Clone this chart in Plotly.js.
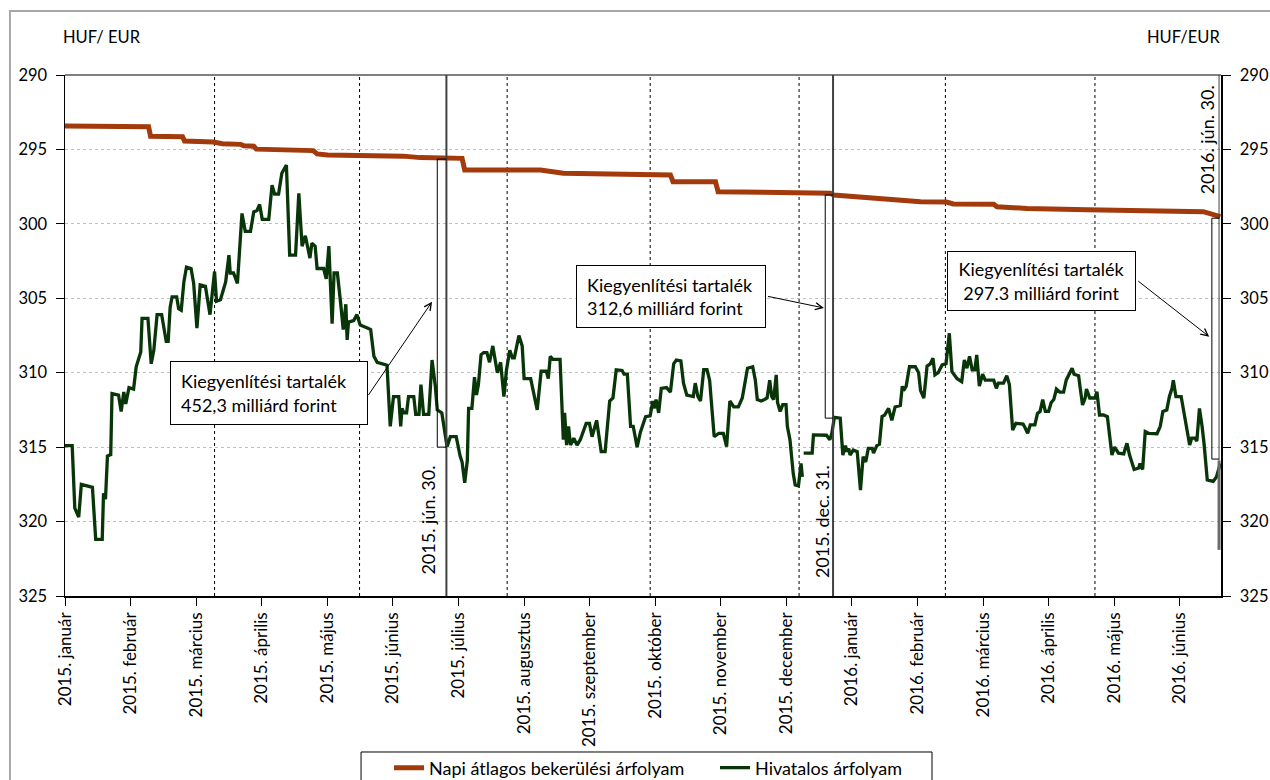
<!DOCTYPE html>
<html>
<head>
<meta charset="utf-8">
<script src="https://cdn.plot.ly/plotly-3.0.1.min.js"></script>
<style>html,body{margin:0;padding:0;background:#fff;}#chart{width:1270px;height:780px;}</style>
</head>
<body>
<div id="chart"></div>
<script>
// Month tick labels (x axis unit: one month slot)
const monthLabels = ['2015. január','2015. február','2015. március','2015. április','2015. május','2015. június','2015. július','2015. augusztus','2015. szeptember','2015. október','2015. november','2015. december','2016. január','2016. február','2016. március','2016. április','2016. május','2016. június'];

// Napi átlagos bekerülési árfolyam (HUF/EUR)
const avgX = [0.00,1.28,1.31,1.80,1.83,2.27,2.41,2.69,2.74,2.89,2.93,3.80,3.86,4.02,5.18,5.44,6.08,6.12,7.28,7.63,9.27,9.31,9.96,10.00,11.72,11.77,13.10,13.50,13.60,14.22,14.27,14.68,14.73,15.65,17.43,17.69];
const avgY = [293.43,293.48,294.12,294.15,294.43,294.50,294.62,294.66,294.76,294.78,294.98,295.08,295.30,295.37,295.45,295.55,295.60,296.38,296.38,296.60,296.72,297.17,297.17,297.84,297.95,298.06,298.51,298.53,298.66,298.68,298.85,298.88,298.96,299.05,299.18,299.52];

// Hivatalos árfolyam (HUF/EUR)
const offX = [0.00,0.11,0.15,0.21,0.25,0.42,0.47,0.57,0.59,0.62,0.65,0.70,0.72,0.82,0.86,0.90,0.93,0.98,1.05,1.09,1.16,1.18,1.27,1.32,1.36,1.41,1.48,1.55,1.58,1.61,1.64,1.71,1.74,1.78,1.82,1.86,1.93,1.97,2.02,2.07,2.15,2.22,2.29,2.32,2.38,2.46,2.51,2.53,2.58,2.64,2.71,2.76,2.84,2.89,2.94,2.98,3.02,3.12,3.17,3.21,3.27,3.32,3.39,3.44,3.53,3.58,3.63,3.68,3.75,3.78,3.83,3.86,3.96,4.00,4.04,4.09,4.12,4.17,4.22,4.26,4.30,4.32,4.34,4.42,4.47,4.52,4.63,4.68,4.73,4.78,4.93,4.98,5.03,5.11,5.14,5.16,5.19,5.23,5.26,5.34,5.37,5.42,5.45,5.49,5.57,5.62,5.67,5.70,5.77,5.85,5.90,5.99,6.05,6.08,6.12,6.16,6.18,6.23,6.27,6.30,6.33,6.37,6.41,6.46,6.50,6.55,6.62,6.67,6.72,6.76,6.81,6.85,6.88,6.95,7.00,7.03,7.13,7.23,7.29,7.37,7.40,7.43,7.47,7.58,7.63,7.65,7.68,7.71,7.74,7.79,7.84,7.89,7.98,8.03,8.07,8.14,8.21,8.27,8.34,8.39,8.44,8.53,8.56,8.61,8.66,8.70,8.76,8.81,8.89,8.96,9.00,9.02,9.05,9.09,9.13,9.21,9.27,9.32,9.36,9.43,9.47,9.52,9.62,9.65,9.69,9.73,9.78,9.83,9.87,9.94,10.01,10.08,10.13,10.18,10.24,10.31,10.37,10.42,10.45,10.53,10.57,10.60,10.66,10.71,10.75,10.79,10.82,10.85,10.89,10.91,10.95,10.99,11.04,11.06,11.10,11.15,11.18,11.23,11.27,11.29,11.30,11.31,11.44,11.46,11.54,11.66,11.71,11.74,11.78,11.87,11.91,11.95,11.97,12.00,12.02,12.07,12.13,12.18,12.22,12.26,12.30,12.36,12.38,12.43,12.47,12.51,12.55,12.61,12.66,12.71,12.79,12.82,12.84,12.88,12.93,13.02,13.07,13.10,13.15,13.20,13.25,13.29,13.32,13.37,13.43,13.49,13.54,13.58,13.66,13.73,13.77,13.81,13.85,13.89,13.93,13.96,14.00,14.05,14.09,14.22,14.26,14.29,14.37,14.42,14.46,14.51,14.56,14.67,14.70,14.74,14.78,14.85,14.89,14.93,14.97,15.01,15.06,15.10,15.14,15.18,15.23,15.29,15.33,15.38,15.42,15.45,15.52,15.54,15.58,15.62,15.64,15.69,15.77,15.80,15.84,15.90,15.96,16.03,16.07,16.13,16.21,16.26,16.30,16.37,16.44,16.46,16.50,16.54,16.59,16.72,16.77,16.81,16.87,16.91,16.95,16.97,17.01,17.09,17.12,17.18,17.22,17.25,17.30,17.33,17.37,17.41,17.44,17.49,17.58,17.63,17.69];
const offY = [314.9,314.9,319.1,319.7,317.5,317.7,321.2,321.2,318.1,318.5,315.6,315.5,311.4,311.5,312.6,311.3,312.1,311.0,311.1,309.6,308.6,306.35,306.35,309.4,308.5,306.1,306.1,307.9,307.9,305.6,304.9,304.9,305.7,305.8,303.9,302.9,303.0,304.0,307.0,304.1,304.2,306.1,303.2,305.2,305.1,303.9,302.1,303.3,303.3,304.0,299.3,300.5,300.5,299.2,299.1,298.7,299.7,299.7,297.4,298.0,298.0,296.6,296.05,302.1,302.1,297.95,301.5,300.8,302.3,301.3,301.5,303.0,303.0,303.7,301.5,306.7,303.3,303.3,305.3,307.1,305.4,307.8,306.6,306.5,306.1,306.8,307.0,307.1,308.9,309.3,309.5,313.6,311.6,311.6,313.6,312.4,312.7,312.7,311.6,311.6,312.8,312.8,310.8,312.8,312.8,309.15,310.9,312.5,312.7,314.97,314.3,314.3,315.6,316.0,317.4,315.9,312.4,312.4,310.3,311.5,310.8,308.8,308.65,308.65,309.3,308.2,310.0,309.3,311.6,309.8,308.5,309.0,309.0,307.5,308.2,310.4,310.4,312.5,309.9,309.9,310.4,308.9,309.1,309.1,314.5,312.7,314.86,313.6,314.86,314.4,314.86,314.5,313.4,313.4,314.3,313.2,315.3,315.3,311.9,311.7,309.8,309.85,310.1,310.1,313.6,313.6,315.0,314.0,312.95,312.9,311.9,312.4,311.8,312.7,311.05,311.0,311.3,309.4,309.15,309.2,310.7,311.5,311.6,310.7,311.6,311.9,309.8,309.8,310.5,314.3,314.07,314.07,314.97,311.9,312.3,312.3,311.7,310.5,309.7,309.6,310.5,311.8,311.9,311.8,311.7,310.5,311.6,311.8,310.15,312.0,312.6,312.15,312.15,313.6,314.5,316.76,317.54,317.6,316.1,317.0,null,315.4,315.4,314.18,314.2,314.2,314.5,314.1,313.0,313.05,315.53,314.9,315.3,315.1,315.53,315.2,315.3,317.88,315.64,316.0,315.08,315.08,315.4,314.9,314.8,312.95,312.85,312.4,313.2,312.3,312.2,310.9,311.2,310.9,309.6,309.6,310.0,311.2,311.7,309.55,309.4,309.03,310.15,310.0,309.48,309.4,307.35,309.93,310.4,310.6,309.15,309.7,308.9,309.8,309.8,308.8,310.9,310.1,310.5,310.5,311.05,310.7,310.7,310.2,310.8,313.85,313.4,313.45,313.7,314.07,313.5,313.5,312.73,312.6,311.8,312.6,312.6,312.0,311.8,311.1,311.3,311.3,310.5,310.1,309.7,310.1,310.2,310.9,312.17,311.7,311.1,311.7,311.7,311.27,312.84,312.84,312.95,315.53,315.0,315.4,315.45,314.74,315.53,316.5,316.4,316.1,316.5,313.96,314.07,314.1,313.6,312.6,312.5,311.6,311.05,310.5,311.6,311.6,312.4,313.85,314.86,314.4,314.4,314.6,312.4,313.6,314.74,317.2,317.3,317.0,316.1];

// Reference dates of the reserve (kiegyenlítési tartalék) and their amounts
const markerDates = ['2015. jún. 30.','2015. dec. 31.','2016. jún. 30.'];
const markerX = [5.84, 11.76, 17.67];
const reserveText = ['Kiegyenlítési tartalék<br>452,3 milliárd forint','Kiegyenlítési tartalék<br>312,6 milliárd forint','Kiegyenlítési tartalék<br>297,3 milliárd forint'];
const bracketX = [5.70, 11.64, 17.56];
const bracketTop = [295.65, 298.06, 299.62];
const bracketBottom = [315.0, 313.05, 315.8];

// decoration positions
const vGridAt = [2.29, 4.51, 6.77, 8.96, 11.24, 13.48, 15.77];
const boxCenter = [[3.13, 311.36],[9.28, 304.88],[14.955, 303.84]];
const boxSize = [[176, 42],[168, 41],[167, 38]];
const boxAlign = ['left','left','center'];
const arrowHead = [[5.62, 305.23],[11.62, 305.65],[17.52, 307.58]];
const arrowTail = [[4.63, 311.6],[10.74, 304.85],[16.41, 303.77]];
const dateLabelPos = [[5.56, 323.72, 'bottom'],[11.59, 323.9, 'bottom'],[17.48, 290.55, 'top']];

const FONT = 'Lato, "Liberation Sans", Arial, sans-serif';
const TXT = 18;
const TICK = 17;
const monthStep = 1.0041;

const traces = [
  {x: avgX, y: avgY, type: 'scatter', mode: 'lines', name: 'Napi átlagos bekerülési árfolyam',
   line: {color: '#A23A0C', width: 5}, hoverinfo: 'skip'},
  {x: offX, y: offY, type: 'scatter', mode: 'lines', name: 'Hivatalos árfolyam', connectgaps: false,
   line: {color: '#083608', width: 3.3}, hoverinfo: 'skip'},
  {x: [], y: [], type: 'scatter', yaxis: 'y2', showlegend: false, hoverinfo: 'skip'}
];

const shapes = [];
vGridAt.forEach(v => shapes.push({type: 'line', xref: 'x', yref: 'paper', x0: v, x1: v, y0: 0, y1: 1,
  line: {color: '#000', width: 1, dash: 'dot'}, layer: 'below'}));
shapes.push({type: 'line', xref: 'paper', yref: 'paper', x0: 0, x1: 1, y0: 1, y1: 1, line: {color: '#808080', width: 2}});
shapes.push({type: 'line', xref: 'x', yref: 'paper', x0: markerX[0], x1: markerX[0], y0: 0, y1: 1, line: {color: '#404040', width: 2}});
shapes.push({type: 'line', xref: 'x', yref: 'paper', x0: markerX[1], x1: markerX[1], y0: 0, y1: 1, line: {color: '#404040', width: 2}});
shapes.push({type: 'line', xref: 'x', yref: 'y', x0: markerX[2], x1: markerX[2], y0: 290, y1: 315.9, line: {color: '#404040', width: 1}});
shapes.push({type: 'line', xref: 'x', yref: 'y', x0: markerX[2], x1: markerX[2], y0: 315.9, y1: 321.9, line: {color: '#6a6a6a', width: 3}});
for (let i = 0; i < 3; i++) {
  const ln = {color: '#000', width: 1};
  shapes.push({type: 'line', xref: 'x', yref: 'y', x0: bracketX[i], x1: bracketX[i], y0: bracketTop[i], y1: bracketBottom[i], line: ln});
  shapes.push({type: 'line', xref: 'x', yref: 'y', x0: bracketX[i], x1: markerX[i], y0: bracketTop[i], y1: bracketTop[i], line: ln});
  shapes.push({type: 'line', xref: 'x', yref: 'y', x0: bracketX[i], x1: markerX[i], y0: bracketBottom[i], y1: bracketBottom[i], line: ln});
}
shapes.push({type: 'rect', xref: 'paper', yref: 'paper', x0: -0.0476, x1: 1.2, y0: -0.5, y1: 1.1228, line: {color: '#a6a6a6', width: 2}, layer: 'below'});
shapes.push({type: 'rect', xref: 'paper', yref: 'paper', x0: 0.2561, x1: 0.7500, y0: -0.40, y1: -0.2994, line: {color: '#000', width: 1}, fillcolor: 'rgba(0,0,0,0)'});

const annotations = [
  {xref: 'paper', yref: 'paper', x: -0.0035, y: 1.073, xanchor: 'left', yanchor: 'middle', text: 'HUF/ EUR', showarrow: false, font: {family: FONT, size: 16.5, color: '#000'}},
  {xref: 'paper', yref: 'paper', x: 1.0009, y: 1.073, xanchor: 'right', yanchor: 'middle', text: 'HUF/EUR', showarrow: false, font: {family: FONT, size: 16.5, color: '#000'}}
];
for (let i = 0; i < 3; i++) {
  annotations.push({xref: 'x', yref: 'y', x: arrowHead[i][0], y: arrowHead[i][1], ax: arrowTail[i][0], ay: arrowTail[i][1],
    axref: 'x', ayref: 'y', text: '', showarrow: true, arrowhead: 5, arrowsize: 1.4, arrowwidth: 1, arrowcolor: '#000', standoff: 0, startstandoff: 0});
  annotations.push({xref: 'x', yref: 'y', x: boxCenter[i][0], y: boxCenter[i][1], xanchor: 'center', yanchor: 'middle',
    text: reserveText[i], showarrow: false, align: boxAlign[i], width: boxSize[i][0], height: boxSize[i][1],
    bordercolor: '#000', borderwidth: 1, borderpad: 10, bgcolor: '#fff', font: {family: FONT, size: TXT, color: '#000'}});
  annotations.push({xref: 'x', yref: 'y', x: dateLabelPos[i][0], y: dateLabelPos[i][1], xanchor: 'center', yanchor: dateLabelPos[i][2],
    text: markerDates[i], textangle: -90, showarrow: false, font: {family: FONT, size: TXT, color: '#000'}});
}

const layout = {
  width: 1270, height: 780,
  margin: {l: 65, r: 49, t: 75, b: 184, autoexpand: false},
  paper_bgcolor: '#fff', plot_bgcolor: '#fff',
  font: {family: FONT, size: TXT, color: '#000'},
  showlegend: true,
  legend: {orientation: 'h', x: 0.2803, xanchor: 'left', y: -0.330, yanchor: 'middle',
    entrywidth: 281, entrywidthmode: 'pixels', font: {family: FONT, size: TXT, color: '#000'},
    bgcolor: 'rgba(0,0,0,0)', borderwidth: 0, traceorder: 'normal'},
  xaxis: {range: [0, 17.70], tickmode: 'array', tickvals: monthLabels.map((m, i) => i * monthStep), ticktext: monthLabels,
    tickangle: -90, ticks: 'outside', ticklen: 8, tickcolor: '#000', showline: true, linecolor: '#000', linewidth: 1.5,
    showgrid: false, zeroline: false, automargin: false, tickfont: {family: FONT, size: TICK, color: '#000'}},
  yaxis: {range: [325, 290], tick0: 290, dtick: 5, ticks: 'outside', ticklen: 8, tickcolor: '#000', showline: true,
    linecolor: '#000', linewidth: 1.5, showgrid: true, gridcolor: '#bfbfbf', griddash: 'dot', gridwidth: 1, zeroline: false,
    automargin: false, ticklabelstandoff: 5, tickfont: {family: FONT, size: 16.5, color: '#000'}},
  yaxis2: {overlaying: 'y', side: 'right', range: [325, 290], tick0: 290, dtick: 5, ticks: 'outside', ticklen: 8, tickcolor: '#000',
    showline: true, linecolor: '#000', linewidth: 1.5, showgrid: false, zeroline: false, automargin: false, ticklabelstandoff: 6,
    tickfont: {family: FONT, size: 16.5, color: '#000'}},
  shapes: shapes,
  annotations: annotations
};

Plotly.newPlot('chart', traces, layout, {staticPlot: true, displayModeBar: false});
</script>
</body>
</html>
